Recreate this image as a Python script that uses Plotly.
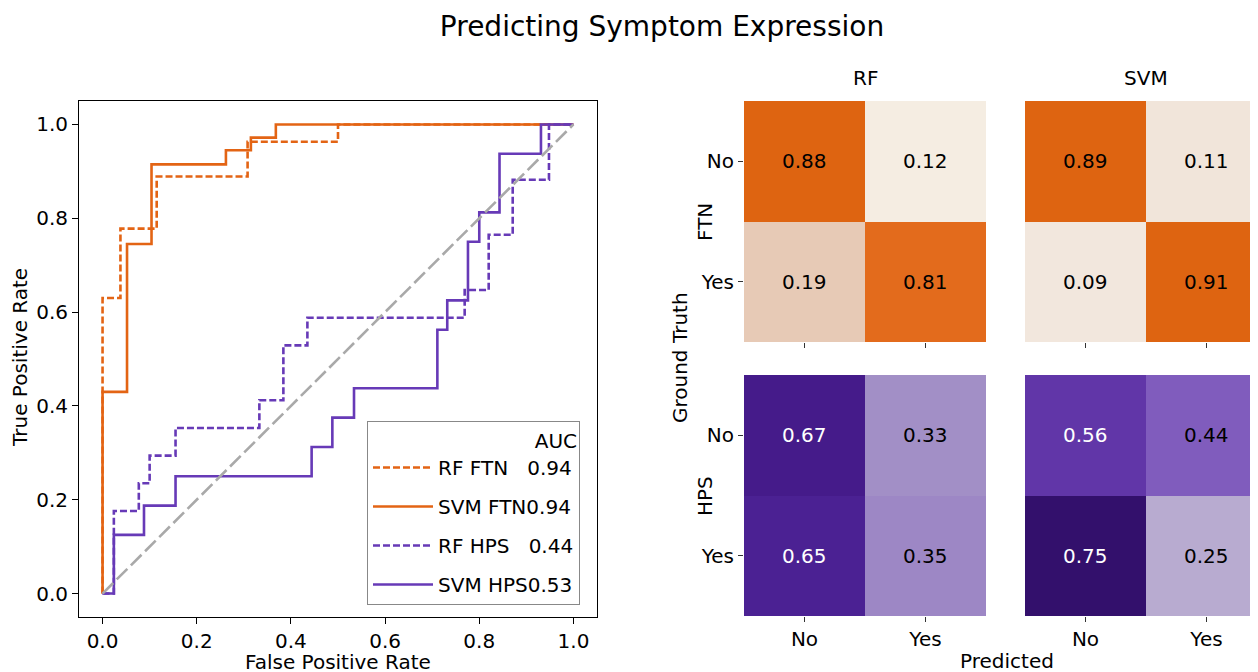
import plotly.graph_objects as go

# ---------------- data ----------------
rf_ftn_fpr = [0, 0, 0.038, 0.038, 0.115, 0.115, 0.308, 0.308, 0.5, 0.5, 1]
rf_ftn_tpr = [0, 0.63, 0.63, 0.778, 0.778, 0.889, 0.889, 0.963, 0.963, 1, 1]

svm_ftn_fpr = [0, 0, 0.052, 0.052, 0.104, 0.104, 0.262, 0.262, 0.315, 0.315, 0.368, 0.368, 1]
svm_ftn_tpr = [0, 0.43, 0.43, 0.745, 0.745, 0.915, 0.915, 0.945, 0.945, 0.972, 0.972, 1, 1]

rf_hps_fpr = [0, 0.024, 0.024, 0.077, 0.077, 0.10, 0.10, 0.155, 0.155, 0.333, 0.333, 0.384, 0.384,
              0.435, 0.435, 0.769, 0.769, 0.82, 0.82, 0.871, 0.871, 0.948, 0.948, 1]
rf_hps_tpr = [0, 0, 0.176, 0.176, 0.235, 0.235, 0.294, 0.294, 0.353, 0.353, 0.412, 0.412, 0.529,
              0.529, 0.588, 0.588, 0.647, 0.647, 0.765, 0.765, 0.882, 0.882, 1, 1]

svm_hps_fpr = [0, 0.024, 0.024, 0.088, 0.088, 0.155, 0.155, 0.444, 0.444, 0.488, 0.488, 0.534, 0.534,
               0.711, 0.711, 0.732, 0.732, 0.776, 0.776, 0.80, 0.80, 0.843, 0.843, 0.931, 0.931, 1]
svm_hps_tpr = [0, 0, 0.125, 0.125, 0.1875, 0.1875, 0.25, 0.25, 0.3125, 0.3125, 0.375, 0.375, 0.4375,
               0.4375, 0.5625, 0.5625, 0.625, 0.625, 0.75, 0.75, 0.8125, 0.8125, 0.9375, 0.9375, 1, 1]

roc_names = ["RF FTN", "SVM FTN", "RF HPS", "SVM HPS"]
roc_auc = [0.94, 0.94, 0.44, 0.53]

classes = ["No", "Yes"]
models = ["RF", "SVM"]
groups = ["FTN", "HPS"]
cm_rf_ftn = [[0.88, 0.12], [0.19, 0.81]]
cm_svm_ftn = [[0.89, 0.11], [0.09, 0.91]]
cm_rf_hps = [[0.67, 0.33], [0.65, 0.35]]
cm_svm_hps = [[0.56, 0.44], [0.75, 0.25]]

# ---------------- style ----------------
FONT = "DejaVu Sans"
ORANGE = "#e36414"
PURPLE = "#673ab7"
OFF = 8                      # page body margin of the html page
W, H = 1258 - OFF, 672 - OFF  # figure size so it fits the window exactly

orange_scale = [[0.0, "#f7f1e7"], [0.09, "#f2e7dd"], [0.11, "#f1e5da"], [0.12, "#f5ede2"],
                [0.19, "#e7cab6"], [0.81, "#e36b1c"], [0.88, "#de6411"], [1.0, "#dc6210"]]
purple_scale = [[0.0, "#d8d0e6"], [0.25, "#b8abd0"], [0.33, "#a28fc6"], [0.35, "#9d87c5"],
                [0.44, "#805cbd"], [0.56, "#6136a8"], [0.65, "#4b2193"], [0.67, "#451b8a"],
                [0.75, "#33106c"], [1.0, "#1f0045"]]

def px_x(p):
    return (p - OFF) / W

def px_y(p):
    return 1 - (p - OFF) / H

fig = go.Figure()

# ---------------- ROC ----------------
roc_data = [(rf_ftn_fpr, rf_ftn_tpr, ORANGE, "7px,3px"),
            (svm_ftn_fpr, svm_ftn_tpr, ORANGE, "solid"),
            (rf_hps_fpr, rf_hps_tpr, PURPLE, "7px,3px"),
            (svm_hps_fpr, svm_hps_tpr, PURPLE, "solid")]

pads = ["\u00a0\u00a0\u00a0", "", "\u00a0\u00a0\u00a0", ""]
for i, (fx, fy, col, dash) in enumerate(roc_data):
    fig.add_trace(go.Scatter(
        x=fx, y=fy, mode="lines",
        line=dict(color=col, width=2.6, dash=dash),
        name=f"{roc_names[i]}{pads[i]}{roc_auc[i]:.2f}",
        legendgroup=f"g{i}", xaxis="x", yaxis="y"))

fig.add_trace(go.Scatter(x=[0, 1], y=[0, 1], mode="lines",
                         line=dict(color="#a9a9a9", width=2.6, dash="15px,5px"),
                         showlegend=False, hoverinfo="skip", xaxis="x", yaxis="y"))

# ---------------- heatmaps ----------------
hm = [(cm_rf_ftn, "x2", "y2", orange_scale, False),
      (cm_svm_ftn, "x3", "y3", orange_scale, False),
      (cm_rf_hps, "x4", "y4", purple_scale, True),
      (cm_svm_hps, "x5", "y5", purple_scale, True)]

annotations = []
for z, xa, ya, cs, is_purple in hm:
    fig.add_trace(go.Heatmap(z=z, x=[0, 1], y=[0, 1], colorscale=cs, zmin=0, zmax=1,
                             showscale=False, xaxis=xa, yaxis=ya, hoverinfo="skip"))
    for r in range(2):
        for c in range(2):
            v = z[r][c]
            tc = "white" if (is_purple and v > 0.5) else "black"
            annotations.append(dict(x=c, y=r, xref=xa, yref=ya, text=f"{v:.2f}",
                                    xanchor="center", yanchor="middle",
                                    showarrow=False, font=dict(family=FONT, size=20, color=tc)))

# ---------------- layout ----------------
axis_font = dict(family=FONT, size=20, color="black")

roc_dom_x = [px_x(79), px_x(597)]
roc_dom_y = [px_y(617), px_y(101)]

rf_x = [px_x(744), px_x(986)]
svm_x = [px_x(1025), 1.0]
ftn_y = [px_y(342), px_y(101)]
hps_y = [px_y(616), px_y(375)]
svm_right = 1.5 - (1267 - 1258) / 121.0

def hx(dom, anchor, show_labels, rng):
    return dict(domain=dom, anchor=anchor, range=rng, tickvals=[0, 1],
                ticktext=classes if show_labels else ["", ""],
                ticks="outside", ticklen=5, tickcolor="#333", showgrid=False,
                zeroline=False, showline=False, tickfont=axis_font, fixedrange=True)

def hy(dom, anchor, show):
    return dict(domain=dom, anchor=anchor, range=[1.5, -0.5], tickvals=[0, 1],
                ticktext=classes if show else ["", ""],
                ticks="outside" if show else "", ticklen=5, tickcolor="#333",
                showgrid=False, zeroline=False, showline=False, tickfont=axis_font,
                fixedrange=True)

def lab(text, x, y, angle=0):
    return dict(text=text, x=px_x(x), y=px_y(y), xref="paper", yref="paper",
                xanchor="center", yanchor="middle", showarrow=False,
                textangle=angle, font=axis_font)

annotations += [
    lab("False Positive Rate", 338, 662),
    lab("True Positive Rate", 20, 358, -90),
    lab(models[0], 865, 78),
    lab(models[1], 1146, 78),
    lab(groups[0], 705, 222, -90),
    lab(groups[1], 705, 496, -90),
    lab("Ground Truth", 680, 358, -90),
    lab("Predicted", 1007, 661),
]

fig.update_layout(
    width=W, height=H,
    margin=dict(l=0, r=0, t=0, b=0),
    paper_bgcolor="white", plot_bgcolor="white",
    font=dict(family=FONT, size=20, color="black"),
    title=dict(text="Predicting Symptom Expression", x=px_x(662), xanchor="center",
               y=px_y(26), yanchor="middle", yref="container",
               font=dict(family=FONT, size=28, color="black")),
    xaxis=dict(domain=roc_dom_x, anchor="y", range=[-0.05, 1.05],
               tickvals=[0, 0.2, 0.4, 0.6, 0.8, 1.0], tickformat=".1f",
               ticks="outside", ticklen=6, tickcolor="black", showline=True,
               linecolor="black", linewidth=1, mirror=True, showgrid=False,
               zeroline=False, tickfont=axis_font),
    yaxis=dict(domain=roc_dom_y, anchor="x", range=[-0.05, 1.05],
               tickvals=[0, 0.2, 0.4, 0.6, 0.8, 1.0], tickformat=".1f",
               ticks="outside", ticklen=6, tickcolor="black", showline=True,
               linecolor="black", linewidth=1, mirror=True, showgrid=False,
               zeroline=False, tickfont=axis_font),
    xaxis2=hx(rf_x, "y2", False, [-0.5, 1.5]),
    yaxis2=hy(ftn_y, "x2", True),
    xaxis3=hx(svm_x, "y3", False, [-0.5, svm_right]),
    yaxis3=hy(ftn_y, "x3", False),
    xaxis4=hx(rf_x, "y4", True, [-0.5, 1.5]),
    yaxis4=hy(hps_y, "x4", True),
    xaxis5=hx(svm_x, "y5", True, [-0.5, svm_right]),
    yaxis5=hy(hps_y, "x5", False),
    legend=dict(x=px_x(580), xanchor="right", y=px_y(605), yanchor="bottom",
                bgcolor="white", bordercolor="#888888", borderwidth=1,
                font=dict(family=FONT, size=20, color="black"),
                itemwidth=60, tracegroupgap=10,
                title=dict(text="AUC", side="top right",
                           font=dict(family=FONT, size=20, color="black"))),
    annotations=annotations,
    showlegend=True,
)

fig.write_html("out.html")
